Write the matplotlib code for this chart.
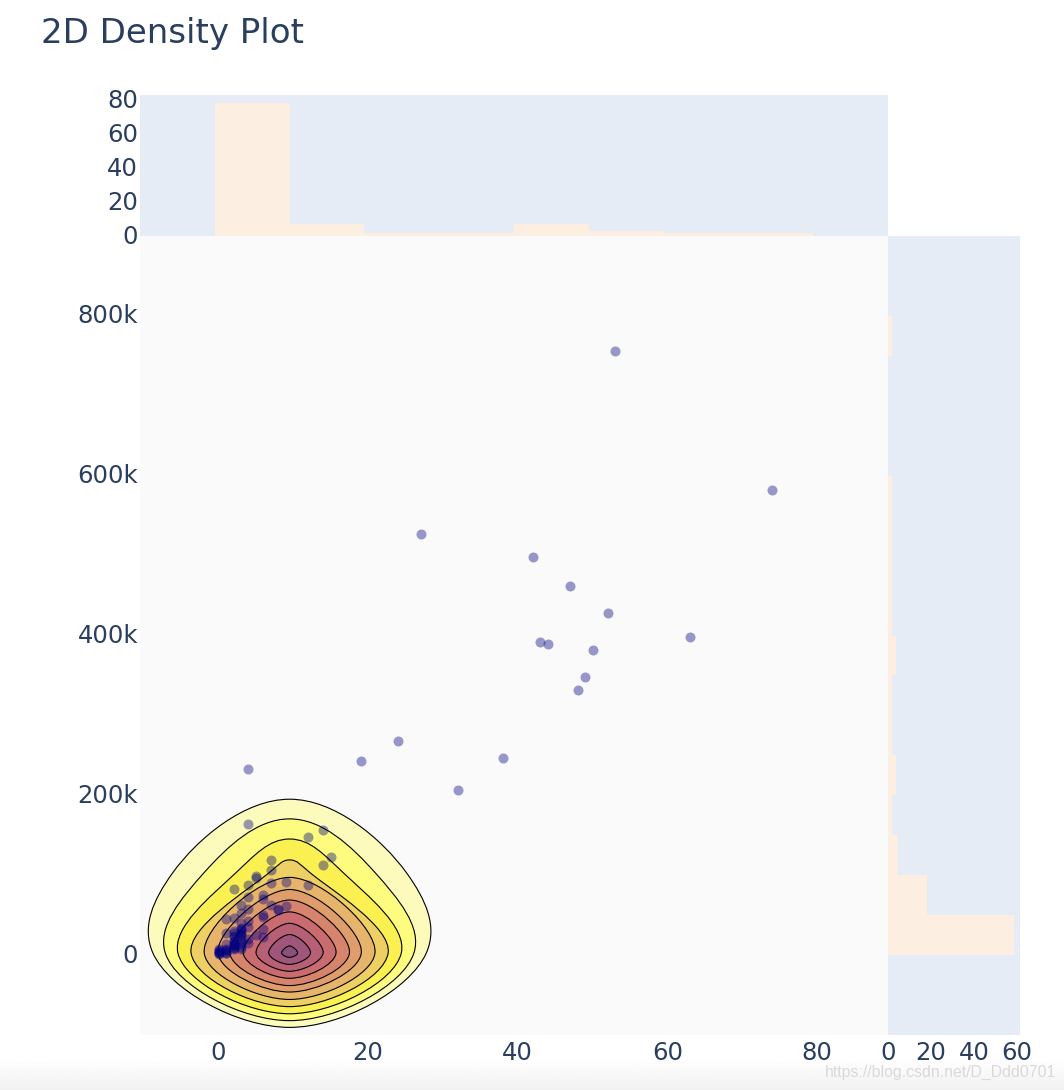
import numpy as np
import matplotlib
matplotlib.use("Agg")
import matplotlib.pyplot as plt
from matplotlib.path import Path
from matplotlib.patches import PathPatch
from matplotlib.transforms import ScaledTranslation

W, H = 1064, 1090
TEXT = '#2a3f5f'
BAR = '#fdeee2'
MARGIN_BG = '#e5ecf6'

# Scatter points (x, y in thousands)
x_scatter = [53, 74, 27, 42, 47, 52, 63, 43, 44, 50, 49, 48, 24, 19, 38, 4, 32,
             4, 12, 14, 15, 14, 7, 7, 5, 5, 4, 2, 7, 9, 12, 6, 6, 4, 3, 4, 7, 9, 8, 8,
             6, 6, 3, 1, 2, 4, 3, 4, 6, 5, 6, 1, 2, 3, 2, 3, 3, 1, 2, 2, 3, 4,
             0, 0, 0, 1, 1, 2, 2, 3, 1, 0, 2, 3,
             0, 0, 0, 1, 1, 2, 2, 2, 2, 3, 3, 3, 3, 2, 3, 4]
y_scatter = [755, 581, 526, 498, 461, 428, 398, 391, 389, 381, 347, 331, 268, 243, 246, 233, 206,
             164, 148, 156, 122, 113, 119, 106, 99, 96, 87, 82, 90, 91, 87, 75, 70, 72, 63, 58, 62, 61, 57, 56,
             48, 50, 53, 45, 46, 43, 40, 35, 33, 25, 22, 28, 30, 30, 27, 26, 34, 14, 14, 9, 14, 15,
             5, 3, 2, 5, 8, 10, 18, 20, 3, 7, 12, 8,
             4, 6, 1, 3, 6, 12, 16, 22, 24, 16, 24, 28, 32, 8, 10, 20]

# Marginal histograms
x_bin_edges = [-0.5, 9.5, 19.5, 29.5, 39.5, 49.5, 59.5, 69.5, 79.5]
x_hist = [78, 7, 2, 2, 7, 3, 2, 2]
y_bin_edges = [-0.5, 49.5, 99.5, 149.5, 199.5, 249.5, 299.5, 349.5, 399.5, 449.5, 499.5,
               549.5, 599.5, 649.5, 699.5, 749.5, 799.5]
y_hist = [58.5, 18, 4.6, 1.9, 3.7, 1.9, 1.9, 3.7, 1.9, 1.9, 1.9, 1.9, 0, 0, 0, 1.9]

# Coarse density grid behind the contours
grid_x = [-10.5, 9.5, 29.5]
grid_y = [-97.5, 2.5, 102.5, 202.5, 302.5]
grid_z = [[0, 1, 0],
          [0, 58, 0],
          [0, 23, 0],
          [0, 3.5, 0],
          [0, 0, 0]]
contour_levels = [5.0, 9.8, 14.7, 19.8, 24.9, 30.2, 34.8, 40.0, 45.0, 49.9, 54.9]
contour_colors = ['#fcfbbb', '#fdfc7e', '#fbf052', '#edcf64', '#e6b56b', '#df9d6b',
                  '#d7846c', '#ca6b70', '#b75f74', '#a0567a', '#8a4f7d', '#75497f']

x_ticks = [0, 20, 40, 60, 80]
y_ticks = [0, 200, 400, 600, 800]
y_ticklabels = ['0', '200k', '400k', '600k', '800k']
top_ticks = [0, 20, 40, 60, 80]
right_ticks = [0, 20, 40, 60]


def axes_px(left, top, right, bottom):
    return [left / W, 1 - bottom / H, (right - left) / W, (bottom - top) / H]


def smooth_closed(pts, smoothness=1.15):
    # closed cardinal spline through the contour vertices, in pixels
    n = len(pts)
    out, inn = [], []
    for i in range(n):
        d1 = pts[i - 1] - pts[i]
        d2 = pts[(i + 1) % n] - pts[i]
        a1 = np.hypot(*d1) ** 0.5
        a2 = np.hypot(*d2) ** 0.5
        num = (a2 * a2 * d1 - a1 * a1 * d2) * smoothness
        inn.append(pts[i] + num / (3 * a2 * (a1 + a2)))
        out.append(pts[i] - num / (3 * a1 * (a1 + a2)))
    verts = [pts[0]]
    codes = [Path.MOVETO]
    for i in range(1, n + 1):
        verts += [out[i - 1], inn[i % n], pts[i % n]]
        codes += [Path.CURVE4] * 3
    return np.array(verts), codes


plt.rcParams['font.family'] = 'DejaVu Sans'
fig = plt.figure(figsize=(W / 100, H / 100), dpi=100, facecolor='white')

# screenshot shading along the bottom edge
ax_fade = fig.add_axes(axes_px(0, 1058, W, H), zorder=-1)
ax_fade.imshow(np.linspace(1, 0.945, 40).reshape(-1, 1), cmap='gray', vmin=0, vmax=1, aspect='auto')
ax_fade.axis('off')

ax = fig.add_axes(axes_px(140, 236, 888, 1035), facecolor='#fafafa')
ax_top = fig.add_axes(axes_px(140, 95, 888, 236), facecolor=MARGIN_BG)
ax_right = fig.add_axes(axes_px(888, 236, 1020, 1035), facecolor=MARGIN_BG)

ax.set_xlim(-10.5, 89.5)
ax.set_ylim(-100, 899)

# Contours: vertices from the coarse grid, rounded off like the original
cs = ax.contour(grid_x, grid_y, np.array(grid_z), levels=contour_levels)
level_paths = [p.vertices.copy() for p in cs.get_paths()]
cs.remove()

for i, verts in enumerate(level_paths):
    if np.allclose(verts[0], verts[-1]):
        verts = verts[:-1]
    px = ax.transData.transform(verts)
    curve, codes = smooth_closed(px)
    curve = ax.transData.inverted().transform(curve)
    ax.add_patch(PathPatch(Path(curve, codes), facecolor=contour_colors[i], edgecolor='black',
                           linewidth=0.8, zorder=2 + i * 0.01))

ax.scatter(x_scatter, y_scatter, s=52, color=(0, 0, 128 / 255, 0.4), linewidths=0, zorder=3)

ax.set_xticks(x_ticks)
ax.set_yticks(y_ticks)
ax.set_yticklabels(y_ticklabels)

# Top histogram
ax_top.bar(x_bin_edges[:-1], x_hist, width=np.diff(x_bin_edges), align='edge', color=BAR, linewidth=0)
ax_top.set_xlim(-10.5, 89.5)
ax_top.set_ylim(0, 83)
ax_top.set_yticks(top_ticks)
ax_top.set_xticks([])

# Right histogram
ax_right.barh(y_bin_edges[:-1], y_hist, height=np.diff(y_bin_edges), align='edge', color=BAR, linewidth=0)
ax_right.set_ylim(-100, 899)
ax_right.set_xlim(0, 61.3)
ax_right.set_xticks(right_ticks)
ax_right.set_yticks([])

for a in (ax, ax_top, ax_right):
    for s in a.spines.values():
        s.set_visible(False)
    a.tick_params(length=0, labelsize=17.5, labelcolor=TEXT, pad=1.5)

ax.tick_params(axis='x', pad=4)
ax_right.tick_params(axis='x', pad=4)

# y labels sit a little higher than the tick value
up = ScaledTranslation(0, 1.8 / 100, fig.dpi_scale_trans)
for a in (ax, ax_top):
    for label in a.get_yticklabels():
        label.set_transform(label.get_transform() + up)

fig.text(41 / W, 1 - 34 / H, '2D Density Plot', fontsize=24.5, color=TEXT, va='center', ha='left')
fig.text(825 / W, 1 - 1072 / H, 'https://blog.csdn.net/D_Ddd0701', fontsize=11.4, color='#d9d9d9',
         family='Liberation Sans', va='center', ha='left')

fig.savefig('out.png', dpi=100)
